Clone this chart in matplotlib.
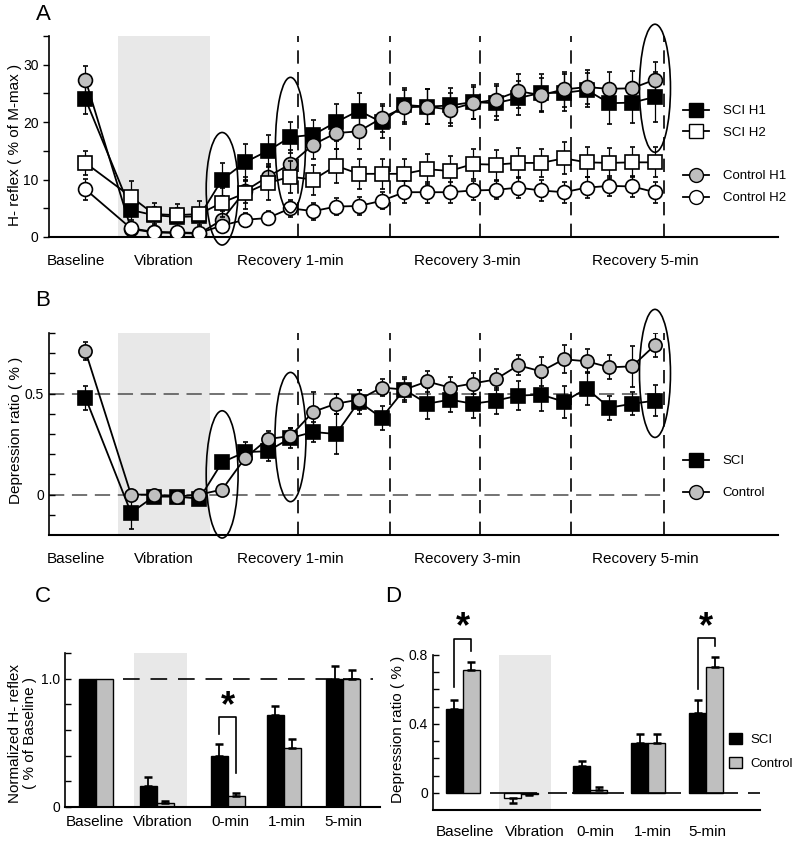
import matplotlib
matplotlib.use('Agg')
import matplotlib.pyplot as plt
from matplotlib.patches import Ellipse, Patch
from matplotlib.lines import Line2D

plt.rcParams['font.family'] = ['Liberation Sans', 'DejaVu Sans']

# ---------------- data ----------------
# time index: baseline 0, vibration 2-5, recovery 6-25
time_idx = [0, 2, 3, 4, 5, 6, 7, 8, 9, 10, 11, 12, 13, 14, 15, 16, 17, 18, 19, 20, 21, 22, 23, 24, 25]

# Panel A: H-reflex (% of M-max)
sci_h1 = [24.0, 4.7, 3.8, 3.5, 3.6, 10.0, 13.0, 15.0, 17.4, 17.8, 20.0, 22.0, 20.0, 23.0, 22.7,
          22.9, 23.5, 23.3, 24.2, 25.1, 25.1, 25.6, 23.3, 23.4, 24.4]
sci_h1_err = [2.5, 1.8, 1.5, 1.5, 1.5, 2.8, 3.2, 2.8, 2.7, 2.6, 3.2, 3.0, 2.8, 3.0, 3.0,
              3.0, 3.0, 3.0, 3.0, 3.2, 3.2, 3.0, 3.6, 3.6, 4.4]
ctrl_h1 = [27.4, 1.4, 0.8, 0.7, 0.6, 3.0, 8.0, 10.5, 12.7, 16.1, 18.1, 18.4, 20.7, 22.6, 22.7,
           22.2, 23.3, 23.9, 25.4, 24.7, 25.7, 26.1, 25.8, 25.9, 27.4]
ctrl_h1_err = [2.3, 0.8, 0.6, 0.6, 0.6, 1.5, 2.0, 2.2, 2.5, 2.5, 2.8, 3.0, 2.5, 3.0, 3.0,
               2.8, 2.8, 2.8, 3.0, 3.0, 3.0, 3.0, 3.0, 3.0, 3.0]
sci_h2 = [12.9, 7.0, 4.0, 3.8, 4.0, 6.0, 7.6, 9.4, 10.5, 10.0, 12.4, 11.0, 11.0, 11.0, 11.8,
          11.5, 12.7, 12.6, 12.9, 12.9, 13.7, 13.0, 12.9, 13.0, 13.0]
sci_h2_err = [2.1, 2.7, 2.0, 2.0, 2.3, 2.5, 2.8, 3.0, 2.8, 2.6, 3.0, 2.6, 2.6, 2.6, 2.6,
              2.6, 2.6, 2.6, 2.6, 2.4, 2.8, 2.6, 2.6, 2.6, 2.6]
ctrl_h2 = [8.3, 1.5, 0.9, 0.8, 0.7, 2.0, 3.0, 3.3, 5.0, 4.5, 5.3, 5.4, 6.3, 7.8, 7.8,
           7.8, 8.1, 8.2, 8.6, 8.1, 7.8, 8.6, 8.9, 8.8, 7.8]
ctrl_h2_err = [1.8, 0.8, 0.8, 0.8, 0.8, 1.0, 1.2, 1.2, 1.5, 1.5, 1.5, 1.5, 1.5, 1.9, 1.8,
               1.8, 1.6, 1.6, 1.8, 1.8, 1.8, 1.8, 1.8, 1.8, 1.8]

# Panel B: depression ratio
sci_dr = [0.48, -0.09, -0.01, -0.01, -0.02, 0.16, 0.21, 0.215, 0.28, 0.31, 0.30, 0.46, 0.38, 0.52, 0.45,
          0.47, 0.45, 0.465, 0.49, 0.495, 0.46, 0.525, 0.43, 0.45, 0.465]
sci_dr_err = [0.06, 0.08, 0.02, 0.02, 0.02, 0.03, 0.05, 0.05, 0.05, 0.05, 0.10, 0.06, 0.06, 0.06, 0.078,
              0.06, 0.07, 0.065, 0.07, 0.08, 0.08, 0.08, 0.06, 0.058, 0.078]
ctrl_dr = [0.71, 0.0, 0.0, -0.01, 0.0, 0.025, 0.18, 0.275, 0.29, 0.41, 0.45, 0.47, 0.53, 0.52, 0.56,
           0.53, 0.55, 0.57, 0.64, 0.61, 0.67, 0.66, 0.63, 0.635, 0.74]
ctrl_dr_err = [0.045, 0.01, 0.01, 0.01, 0.01, 0.02, 0.03, 0.04, 0.04, 0.10, 0.05, 0.05, 0.04, 0.05, 0.05,
               0.05, 0.05, 0.05, 0.05, 0.07, 0.07, 0.06, 0.06, 0.10, 0.06]

period_labels = ['Baseline', 'Vibration', 'Recovery 1-min', 'Recovery 3-min', 'Recovery 5-min']

# Panel C: normalized H-reflex
bar_cats = ['Baseline', 'Vibration', '0-min', '1-min', '5-min']
c_sci = [1.0, 0.165, 0.40, 0.714, 1.0]
c_sci_err = [0.0, 0.065, 0.09, 0.07, 0.10]
c_ctrl = [1.0, 0.034, 0.086, 0.462, 1.0]
c_ctrl_err = [0.0, 0.012, 0.025, 0.065, 0.065]

# Panel D: depression ratio bars
d_sci = [0.486, -0.03, 0.154, 0.289, 0.463]
d_sci_err = [0.055, 0.03, 0.03, 0.052, 0.077]
d_ctrl = [0.713, -0.006, 0.019, 0.289, 0.733]
d_ctrl_err = [0.048, 0.005, 0.014, 0.052, 0.057]

# ---------------- layout ----------------
W, H = 800, 844
fig = plt.figure(figsize=(W / 100, H / 100), dpi=100)


def axes_px(left, top, right, bottom):
    return fig.add_axes([left / W, 1 - bottom / H, (right - left) / W, (bottom - top) / H])


GRAY = '#bfbfbf'
SHADE = '#e8e8e8'
period_pos = [-0.41, 3.45, 8.98, 16.75, 24.56]
vlines_pos = [9.35, 13.35, 17.3, 21.3, 25.4]


def style_line_axes(ax):
    for s in ['top', 'right']:
        ax.spines[s].set_visible(False)
    ax.spines['left'].set_linewidth(1.2)
    ax.spines['bottom'].set_linewidth(1.5)
    ax.set_xlim(-1.6, 30.4)
    ax.axvspan(1.43, 5.47, color=SHADE, zorder=0, lw=0)
    for xv in vlines_pos:
        ax.axvline(xv, color='k', lw=1.2, dashes=(8, 5), zorder=1)
    ax.set_xticks(period_pos)
    ax.set_xticklabels(period_labels, fontsize=11)
    ax.tick_params(axis='x', length=0, pad=12)


# ---------- Panel A ----------
axA = axes_px(49, 36, 778, 237)
style_line_axes(axA)
axA.set_ylim(0, 35)
axA.set_yticks([0, 5, 10, 15, 20, 25, 30, 35])
axA.set_yticklabels(['0', '', '10', '', '20', '', '30', ''], fontsize=10)
axA.tick_params(axis='y', direction='out', length=4, width=1)

ekw = dict(color='k', lw=1.3, elinewidth=0.9, capsize=1.8, capthick=0.9, mec='k', mew=1.2)
axA.errorbar(time_idx, sci_h1, yerr=sci_h1_err, fmt='-s', mfc='k', ms=10, zorder=3, **ekw)
axA.errorbar(time_idx, ctrl_h1, yerr=ctrl_h1_err, fmt='-o', mfc=GRAY, ms=10, zorder=4, **ekw)
axA.errorbar(time_idx, sci_h2, yerr=sci_h2_err, fmt='-s', mfc='w', ms=10, zorder=5, **ekw)
axA.errorbar(time_idx, ctrl_h2, yerr=ctrl_h2_err, fmt='-o', mfc='w', ms=10, zorder=6, **ekw)

for (cx, cy, w, h) in [(6, 8.4, 1.4, 19.6), (9, 16.0, 1.32, 23.6), (25, 25.9, 1.36, 22.3)]:
    axA.add_patch(Ellipse((cx, cy), w, h, fill=False, ec='k', lw=1.2, clip_on=False, zorder=8))

axA.set_ylabel('H- reflex ( % of M-max )', fontsize=11)
axA.yaxis.set_label_coords(-0.037, 0.46)

hA = [Line2D([], [], color='k', lw=1.3, marker='s', mfc='k', mec='k', ms=10),
      Line2D([], [], color='k', lw=1.3, marker='s', mfc='w', mec='k', ms=10),
      Line2D([], [], color='none'),
      Line2D([], [], color='k', lw=1.3, marker='o', mfc=GRAY, mec='k', ms=10),
      Line2D([], [], color='k', lw=1.3, marker='o', mfc='w', mec='k', ms=10)]
axA.legend(hA, ['SCI H1', 'SCI H2', '', 'Control H1', 'Control H2'], loc='upper left',
           bbox_to_anchor=(683 / W, 1 - 105 / H), bbox_transform=fig.transFigure,
           frameon=False, fontsize=9.5, handlelength=2.0, handletextpad=1.0,
           labelspacing=0.72, borderpad=0, borderaxespad=0)

# ---------- Panel B ----------
axB = axes_px(49, 333, 778, 535)
style_line_axes(axB)
axB.set_ylim(-0.2, 0.8)
axB.set_yticks([-0.1, 0, 0.1, 0.2, 0.3, 0.4, 0.5, 0.6, 0.7, 0.8])
axB.set_yticklabels(['', '0', '', '', '', '', '0.5', '', '', ''], fontsize=10)
axB.tick_params(axis='y', direction='in', length=4, width=1)
axB.hlines([0, 0.5], -1.6, 25.45, color='0.3', lw=1.1, linestyles=(0, (10, 5)), zorder=1)

axB.errorbar(time_idx, sci_dr, yerr=sci_dr_err, fmt='-s', mfc='k', ms=9.5, zorder=3, **ekw)
axB.errorbar(time_idx, ctrl_dr, yerr=ctrl_dr_err, fmt='-o', mfc=GRAY, ms=9.5, zorder=4, **ekw)

for (cx, cy, w, h) in [(6, 0.10, 1.4, 0.63), (9, 0.285, 1.36, 0.64), (25, 0.6, 1.36, 0.634)]:
    axB.add_patch(Ellipse((cx, cy), w, h, fill=False, ec='k', lw=1.2, clip_on=False, zorder=8))

axB.set_ylabel('Depression ratio ( % )', fontsize=11)
axB.yaxis.set_label_coords(-0.035, 0.52)

hB = [Line2D([], [], color='k', lw=1.3, marker='s', mfc='k', mec='k', ms=10),
      Line2D([], [], color='k', lw=1.3, marker='o', mfc=GRAY, mec='k', ms=10)]
axB.legend(hB, ['SCI', 'Control'], loc='upper left',
           bbox_to_anchor=(683 / W, 1 - 455 / H), bbox_transform=fig.transFigure,
           frameon=False, fontsize=9.5, handlelength=2.0, handletextpad=1.0,
           labelspacing=1.5, borderpad=0, borderaxespad=0)


# ---------- bar helpers ----------
def draw_bars(ax, pos, sci, sci_err, ctrl, ctrl_err, width, sci_faces=None):
    xs = [p - width / 2 for p in pos]
    xc = [p + width / 2 for p in pos]
    faces = sci_faces if sci_faces else ['k'] * len(sci)
    ax.bar(xs, sci, width, color=faces, edgecolor='k', lw=1, zorder=2)
    ax.bar(xc, ctrl, width, color=GRAY, edgecolor='k', lw=1, zorder=2)
    for x, v, e in list(zip(xs, sci, sci_err)) + list(zip(xc, ctrl, ctrl_err)):
        if e <= 0:
            continue
        yerr = [[0], [e]] if v >= 0 else [[e], [0]]
        ax.errorbar([x], [v], yerr=yerr, fmt='none', ecolor='k', elinewidth=1.3,
                    capsize=3, capthick=1.8, zorder=3)
    return xs, xc


def bracket(ax, x1, x2, y1, y2, top, star_y):
    ax.plot([x1, x1, x2, x2], [y1, top, top, y2], color='k', lw=1.2, clip_on=False, zorder=4)
    ax.text((x1 + x2) / 2, star_y, '*', ha='center', va='baseline', fontsize=26,
            fontweight='bold', clip_on=False)


# ---------- Panel C ----------
axC = axes_px(65, 653, 380, 807)
for s in ['top', 'right']:
    axC.spines[s].set_visible(False)
axC.spines['left'].set_linewidth(1.2)
axC.spines['bottom'].set_linewidth(1.5)
c_pos = [0, 1, 2.16, 3.08, 4.05]
c_w = 0.279
axC.set_xlim(-0.508, 4.656)
axC.set_ylim(0, 1.2)
axC.axvspan(0.62, 1.49, color=SHADE, zorder=0, lw=0)
xs, xc = draw_bars(axC, c_pos, c_sci, c_sci_err, c_ctrl, c_ctrl_err, c_w)
axC.hlines(1.0, 0.44, 4.54, color='k', lw=1.2, linestyles=(0, (10, 6.5)), zorder=3)
axC.set_yticks([0, 0.2, 0.4, 0.6, 0.8, 1.0, 1.2])
axC.set_yticklabels(['0', '', '', '', '', '1.0', ''], fontsize=10)
axC.tick_params(axis='y', direction='in', length=4, width=1)
axC.set_xticks([-0.02, 1.10, 2.20, 3.13, 4.05])
axC.set_xticklabels(bar_cats, fontsize=11)
axC.tick_params(axis='x', length=0, pad=6)
bracket(axC, xs[2], xc[2], 0.57, 0.265, 0.70, 0.71)
axC.set_ylabel('Normalized H- reflex\n( % of Baseline )', fontsize=11, linespacing=1.1)
axC.yaxis.set_label_coords(-0.09, 0.48)

# ---------- Panel D ----------
axD = axes_px(433, 655, 760, 810)
for s in ['top', 'right']:
    axD.spines[s].set_visible(False)
axD.spines['left'].set_linewidth(1.2)
axD.spines['bottom'].set_linewidth(1.5)
d_pos = [0, 1, 2.19, 3.19, 4.19]
d_w = 0.293
axD.set_xlim(-0.517, 5.12)
axD.set_ylim(-0.1, 0.8)
axD.axvspan(0.62, 1.52, color=SHADE, zorder=0, lw=0)
xs, xc = draw_bars(axD, d_pos, d_sci, d_sci_err, d_ctrl, d_ctrl_err, d_w,
                   sci_faces=['k', 'w', 'k', 'k', 'k'])
for a, b in [(0.47, 1.28), (1.47, 1.79), (1.88, 2.78), (2.90, 3.76), (3.90, 4.74), (4.91, 5.16)]:
    axD.hlines(0, a, b, color='k', lw=1.2, zorder=3)
axD.set_yticks([0, 0.1, 0.2, 0.3, 0.4, 0.5, 0.6, 0.7, 0.8])
axD.set_yticklabels(['0', '', '', '', '0.4', '', '', '', '0.8'], fontsize=10)
axD.tick_params(axis='y', direction='in', length=4, width=1)
axD.set_xticks([0.03, 1.24, 2.28, 3.28, 4.21])
axD.set_xticklabels(bar_cats, fontsize=11)
axD.tick_params(axis='x', length=0, pad=11)
bracket(axD, xs[0], xc[0], 0.617, 0.824, 0.89, 0.905)
bracket(axD, xs[4], xc[4], 0.60, 0.85, 0.90, 0.905)
axD.set_ylabel('Depression ratio ( % )', fontsize=11)
axD.yaxis.set_label_coords(-0.085, 0.52)
hD = [Patch(facecolor='k', edgecolor='k'), Patch(facecolor=GRAY, edgecolor='k')]
axD.legend(hD, ['SCI', 'Control'], loc='upper left',
           bbox_to_anchor=(729 / W, 1 - 733 / H), bbox_transform=fig.transFigure,
           frameon=False, fontsize=9.5, handlelength=0.95, handleheight=0.95,
           handletextpad=0.7, labelspacing=0.8, borderpad=0, borderaxespad=0)

# ---------- panel letters ----------
for letter, (px, py) in {'A': (43, 15), 'B': (43, 300), 'C': (43, 597), 'D': (393, 597)}.items():
    fig.text(px / W, 1 - py / H, letter, fontsize=16, ha='center', va='center')

fig.savefig('out.png', dpi=100)
